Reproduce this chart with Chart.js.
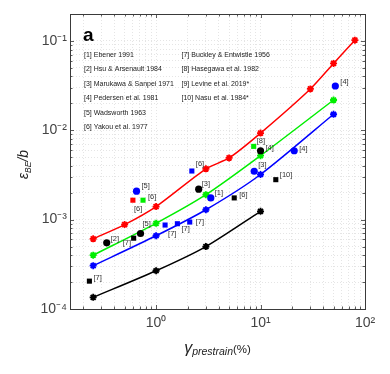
<!DOCTYPE html>
<html>
<head>
<meta charset="utf-8">
<script src="https://cdn.jsdelivr.net/npm/chart.js@4.4.1/dist/chart.umd.min.js"></script>
<style>
  html, body { margin: 0; padding: 0; background: #fff; }
  #wrap { width: 390px; height: 374px; }
</style>
</head>
<body>
<div id="wrap"><canvas id="c" width="390" height="374"></canvas></div>
<script>
// model curves (strain in %, eps/b)
const redX = [0.25, 0.5, 1, 3, 5, 10, 30, 50, 80];
const redY = [6.1e-4, 8.8e-4, 1.4e-3, 3.7e-3, 4.9e-3, 9.3e-3, 0.029, 0.056, 0.102];
const greenX = [0.25, 1, 3, 10, 50];
const greenY = [4.0e-4, 9.1e-4, 1.9e-3, 5.2e-3, 0.0218];
const blueX = [0.25, 1, 3, 10, 50];
const blueY = [3.05e-4, 6.6e-4, 1.29e-3, 3.2e-3, 0.0151];
const blackX = [0.25, 1, 3, 10];
const blackY = [1.35e-4, 2.68e-4, 5.0e-4, 1.24e-3];

// experimental points
const blueCircX = [0.65, 3.34, 8.7, 21, 52];
const blueCircY = [2.08e-3, 1.75e-3, 3.48e-3, 5.9e-3, 0.0313];
const blueCircRef = ['[5]', '[1]', '[3]', '[4]', '[4]'];
const blackCircX = [0.337, 0.71, 2.56, 10];
const blackCircY = [5.5e-4, 7.0e-4, 2.19e-3, 5.9e-3];
const blackCircRef = ['[2]', '[5]', '[3]', '[4]'];
const blueSqX = [2.2, 1.22, 1.6, 2.1];
const blueSqY = [3.5e-3, 8.7e-4, 9.0e-4, 9.4e-4];
const blueSqRef = ['[6]', '[7]', '[7]', '[7]'];
const redSqX = [0.60];
const redSqY = [1.65e-3];
const redSqRef = ['[6]'];
const greenSqX = [0.75, 8.6];
const greenSqY = [1.65e-3, 6.6e-3];
const greenSqRef = ['[6]', '[8]'];
const blackSqX = [5.6, 14, 0.61, 0.23];
const blackSqY = [1.75e-3, 2.8e-3, 6.2e-4, 2.05e-4];
const blackSqRef = ['[6]', '[10]', '[7]', '[7]'];

const refsCol1 = ['[1] Ebener 1991', '[2] Hsu & Arsenault 1984', '[3] Marukawa & Sanpei 1971',
  '[4] Pedersen et al. 1981', '[5] Wadsworth 1963', '[6] Yakou et al. 1977'];
const refsCol2 = ['[7] Buckley & Entwistle 1956', '[8] Hasegawa et al. 1982',
  '[9] Levine et al. 2019*', '[10] Nasu et al. 1984*'];

// label offsets (px) for the reference tags
const blueCircOff = [[5, -5], [4, -5], [4, -6], [5, -2], [5, -4]];
const blackCircOff = [[4, -4], [2, -10], [3, -5], [5, -3]];
const blueSqOff = [[4, -7], [3, 9], [4, 5], [6, 0]];
const redSqOff = [[1, 9]];
const greenSqOff = [[5, -3], [3, -5]];
const blackSqOff = [[5, -3], [4, -5], [-11, 5], [4, -3]];

const xTickVals = [0.2, 0.3, 0.4, 0.5, 0.6, 0.7, 0.8, 0.9, 1, 2, 3, 4, 5, 6, 7, 8, 9, 10, 20, 30, 40, 50, 60, 70, 80, 90, 100];
const yTickVals = [1e-4, 2e-4, 3e-4, 4e-4, 5e-4, 6e-4, 7e-4, 8e-4, 9e-4, 1e-3, 2e-3, 3e-3, 4e-3, 5e-3, 6e-3, 7e-3, 8e-3, 9e-3,
  1e-2, 2e-2, 3e-2, 4e-2, 5e-2, 6e-2, 7e-2, 8e-2, 9e-2, 0.1, 0.2];

function pts(xs, ys) { return xs.map((x, i) => ({ x: x, y: ys[i] })); }

const sup = { '-': '\u207B', '0': '\u2070', '1': '\u00B9', '2': '\u00B2', '3': '\u00B3', '4': '\u2074' };
function decadeLabel(v) {
  const e = Math.log10(v);
  if (Math.abs(e - Math.round(e)) > 1e-6) return '';
  return '10' + String(Math.round(e)).split('').map(ch => sup[ch]).join('');
}

function lineSet(xs, ys, col) {
  return {
    type: 'line', data: pts(xs, ys), borderColor: col, backgroundColor: col,
    borderWidth: 1.5, pointStyle: 'star', pointRadius: 3.5, pointBorderWidth: 1.8, tension: 0.25, order: 2
  };
}
function dotSet(xs, ys, col, shape, refs, off) {
  return {
    type: 'scatter', data: pts(xs, ys), borderColor: col, backgroundColor: col,
    pointStyle: shape, pointRadius: shape === 'circle' ? 3.6 : 3.6, pointBorderWidth: 0,
    showLine: false, refs: refs, off: off, order: 1
  };
}

const font = 'Liberation Sans, Arial, Helvetica, sans-serif';

const decor = {
  id: 'decor',
  afterDraw(chart) {
    const ctx = chart.ctx;
    const a = chart.chartArea;
    const xs = chart.scales.x, ys = chart.scales.y;
    ctx.save();
    // inward ticks
    ctx.strokeStyle = '#333';
    ctx.lineWidth = 0.8;
    ctx.beginPath();
    xs.ticks.forEach(t => {
      const px = Math.round(xs.getPixelForValue(t.value)) + 0.5;
      const len = decadeLabel(t.value) ? 4 : 2.5;
      ctx.moveTo(px, a.bottom); ctx.lineTo(px, a.bottom - len);
      ctx.moveTo(px, a.top); ctx.lineTo(px, a.top + len);
    });
    ys.ticks.forEach(t => {
      const py = Math.round(ys.getPixelForValue(t.value)) + 0.5;
      const len = decadeLabel(t.value) ? 4 : 2.5;
      ctx.moveTo(a.left, py); ctx.lineTo(a.left + len, py);
      ctx.moveTo(a.right, py); ctx.lineTo(a.right - len, py);
    });
    ctx.stroke();
    // frame
    ctx.strokeStyle = '#3a3a3a';
    ctx.lineWidth = 1;
    ctx.strokeRect(Math.round(a.left) + 0.5, Math.round(a.top) + 0.5, Math.round(a.right - a.left), Math.round(a.bottom - a.top));

    // reference tags next to the points
    ctx.fillStyle = '#333';
    ctx.font = '7.5px ' + font;
    ctx.textAlign = 'left';
    ctx.textBaseline = 'middle';
    chart.data.datasets.forEach((ds, di) => {
      if (!ds.refs) return;
      const meta = chart.getDatasetMeta(di);
      meta.data.forEach((el, i) => {
        ctx.fillText(ds.refs[i], el.x + ds.off[i][0], el.y + ds.off[i][1]);
      });
    });

    // panel letter and reference list
    ctx.fillStyle = '#000';
    ctx.font = 'bold 19px ' + font;
    ctx.textBaseline = 'alphabetic';
    ctx.fillText('a', a.left + 13, a.top + 27);
    ctx.font = '7px ' + font;
    ctx.fillStyle = '#222';
    ctx.textBaseline = 'middle';
    refsCol1.forEach((s, i) => ctx.fillText(s, a.left + 14, a.top + 41 + i * 14.4));
    refsCol2.forEach((s, i) => ctx.fillText(s, a.left + 111.5, a.top + 41 + i * 14.4));

    // axis titles
    ctx.fillStyle = '#222';
    const cx = (a.left + a.right) / 2;
    ctx.textBaseline = 'alphabetic';
    const g = '\u03B3';
    ctx.font = 'italic 10.5px ' + font;
    const wSub = ctx.measureText('prestrain').width;
    ctx.font = '11.5px ' + font;
    const wPct = ctx.measureText('(%)').width;
    ctx.font = 'italic 16px ' + font;
    const wG = ctx.measureText(g).width;
    let x0 = cx - (wG + wSub + wPct) / 2;
    const by = a.bottom + 44;
    ctx.fillText(g, x0, by);
    ctx.font = 'italic 10.5px ' + font;
    ctx.fillText('prestrain', x0 + wG, by + 2);
    ctx.font = '11.5px ' + font;
    ctx.fillText('(%)', x0 + wG + wSub, by);

    ctx.translate(28, (a.top + a.bottom) / 2 + 3);
    ctx.rotate(-Math.PI / 2);
    ctx.font = 'italic 14px ' + font;
    const wE = ctx.measureText('\u03B5').width;
    ctx.font = 'italic 8.5px ' + font;
    const wBE = ctx.measureText('BE').width;
    ctx.font = 'italic 14px ' + font;
    const wB = ctx.measureText('/b').width;
    let y0 = -(wE + wBE + wB) / 2;
    ctx.fillText('\u03B5', y0, 0);
    ctx.font = 'italic 8.5px ' + font;
    ctx.fillText('BE', y0 + wE, 3);
    ctx.font = 'italic 14px ' + font;
    ctx.fillText('/b', y0 + wE + wBE, 0);
    ctx.restore();
  }
};

const gridCommon = { color: '#dedede', lineWidth: 0.8, drawTicks: false };

new Chart(document.getElementById('c'), {
  data: {
    datasets: [
      lineSet(redX, redY, '#ff0000'),
      lineSet(greenX, greenY, '#00ee00'),
      lineSet(blueX, blueY, '#0000ff'),
      lineSet(blackX, blackY, '#000000'),
      dotSet(blueCircX, blueCircY, '#0000ff', 'circle', blueCircRef, blueCircOff),
      dotSet(blackCircX, blackCircY, '#000000', 'circle', blackCircRef, blackCircOff),
      dotSet(blueSqX, blueSqY, '#0000ff', 'rect', blueSqRef, blueSqOff),
      dotSet(redSqX, redSqY, '#ff0000', 'rect', redSqRef, redSqOff),
      dotSet(greenSqX, greenSqY, '#00ee00', 'rect', greenSqRef, greenSqOff),
      dotSet(blackSqX, blackSqY, '#000000', 'rect', blackSqRef, blackSqOff)
    ]
  },
  options: {
    responsive: false,
    animation: false,
    layout: { padding: { left: 0, right: 25, top: 14, bottom: 0 } },
    plugins: { legend: { display: false }, tooltip: { enabled: false } },
    scales: {
      x: {
        type: 'logarithmic', min: 0.15, max: 100,
        afterBuildTicks: s => { s.ticks = xTickVals.map(v => ({ value: v })); },
        afterFit: s => { s.height = 65; },
        ticks: { autoSkip: false, maxRotation: 0, padding: 6, color: '#444', font: { size: 14, family: font }, callback: v => decadeLabel(v) },
        grid: gridCommon,
        border: { display: false, dash: [1, 2] }
      },
      y: {
        type: 'logarithmic', min: 1e-4, max: 0.2,
        afterBuildTicks: s => { s.ticks = yTickVals.map(v => ({ value: v })); },
        afterFit: s => { s.width = 70; },
        ticks: { autoSkip: false, padding: 3, color: '#444', font: { size: 14, family: font }, callback: v => decadeLabel(v) },
        grid: gridCommon,
        border: { display: false, dash: [1, 2] }
      }
    }
  },
  plugins: [decor]
});
</script>
</body>
</html>
